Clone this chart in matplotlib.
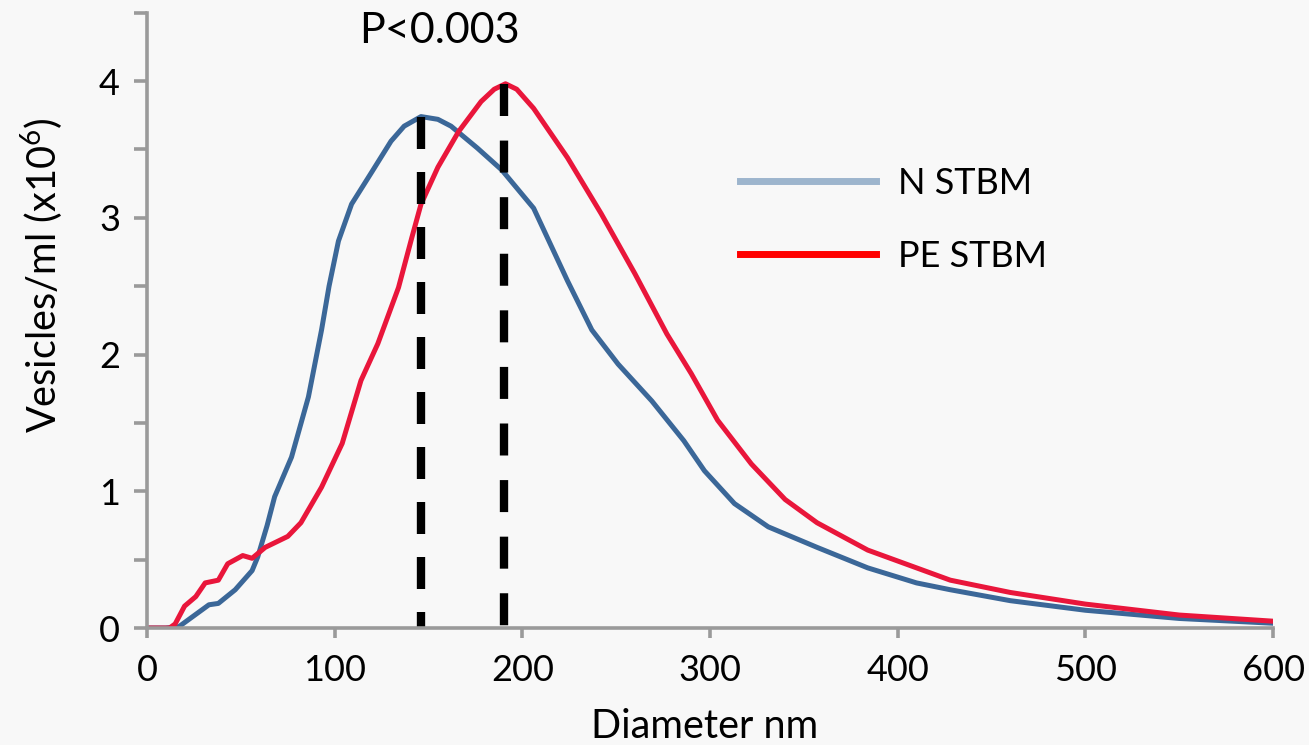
import matplotlib.pyplot as plt
from matplotlib.lines import Line2D

plt.rcParams['font.family'] = ['Lato', 'DejaVu Sans']
plt.rcParams['mathtext.fontset'] = 'custom'
plt.rcParams['mathtext.rm'] = 'Lato'

# vesicle size distribution (diameter nm, vesicles/ml x10^6)
n_x = [0, 10, 17, 24, 33, 38, 47, 56, 59, 64, 68, 77, 86, 93, 97, 102, 109,
       120, 130, 137, 146, 155, 162, 176, 189, 206, 224, 237, 251, 269, 286, 297, 313,
       331, 357, 384, 410, 428, 460, 500, 550, 600]
n_y = [0, 0, 0.01, 0.08, 0.17, 0.18, 0.28, 0.42, 0.52, 0.75, 0.96, 1.25, 1.69, 2.18,
       2.5, 2.83, 3.10, 3.34, 3.56, 3.67, 3.74, 3.72, 3.67, 3.51, 3.35, 3.07, 2.54,
       2.18, 1.93, 1.66, 1.37, 1.15, 0.91, 0.74, 0.59, 0.44, 0.33, 0.28, 0.20, 0.13,
       0.07, 0.035]

pe_x = [0, 8, 12, 15, 20, 26, 31, 38, 43, 51, 56, 63, 75, 82, 93, 104, 114,
        123, 134, 141, 146, 155, 166, 178, 185, 191, 197, 206, 224, 242, 260, 277,
        290, 304, 322, 340, 357, 384, 410, 428, 460, 500, 550, 600]
pe_y = [0, 0, 0.0, 0.03, 0.16, 0.23, 0.33, 0.35, 0.47, 0.53, 0.51, 0.59, 0.67, 0.77,
        1.03, 1.35, 1.81, 2.08, 2.49, 2.85, 3.10, 3.37, 3.63, 3.85, 3.94, 3.98, 3.94,
        3.80, 3.44, 3.03, 2.59, 2.15, 1.86, 1.52, 1.20, 0.94, 0.77, 0.57, 0.44, 0.35,
        0.26, 0.175, 0.095, 0.05]

n_mode, n_peak = 146, 3.74
pe_mode, pe_peak = 190, 3.98
p_text = "P<0.003"

fig = plt.figure(figsize=(13.09, 7.45), dpi=100)
fig.patch.set_facecolor('#f8f8f8')
ax = fig.add_axes([0.1123, 0.157, 0.8603, 0.826])
ax.set_facecolor('#f8f8f8')

ax.plot(n_x, n_y, color='#3b6798', lw=3.6, solid_joinstyle='round')
ax.plot(pe_x, pe_y, color='#e9163b', lw=3.6, solid_joinstyle='round')

# mode markers, dashes tuned so each reaches the x axis
for xm, ym, gap in [(n_mode, n_peak, 2.76), (pe_mode, pe_peak, 2.95)]:
    ax.plot([xm, xm], [ym, 0], color='black', lw=6, linestyle=(0, (3.84, gap)),
            dash_capstyle='butt')

ax.text((n_mode + pe_mode) / 2 - 12, 4.28, p_text, fontsize=31, ha='center', va='baseline')

ax.set_xlim(0, 600)
ax.set_ylim(0, 4.5)
ax.set_xticks(range(0, 601, 100))
ax.set_yticks(range(0, 5))
ax.set_yticks([0.5, 1.5, 2.5, 3.5, 4.5], minor=True)

for s in ['top', 'right']:
    ax.spines[s].set_visible(False)
for s in ['left', 'bottom']:
    ax.spines[s].set_color('#9a9a9a')
    ax.spines[s].set_linewidth(2.6)

ax.tick_params(axis='y', which='both', direction='out', length=9.5, width=2.6,
               color='#9a9a9a', labelsize=26, pad=10)
ax.tick_params(axis='x', direction='out', length=7, width=2.6, color='#9a9a9a',
               labelsize=26, pad=12)

ax.set_ylabel(r'Vesicles/ml (x10$^{\mathrm{6}}$)', fontsize=28.5, va='center')
ax.yaxis.set_label_coords(-0.093, 0.573)
ax.set_xlabel('Diameter nm', fontsize=28.5, va='baseline')
ax.xaxis.set_label_coords(0.4955, -0.178)

handles = [Line2D([], [], color='#9db5cd', lw=5),
           Line2D([], [], color='#ff0000', lw=5)]
ax.legend(handles, ['N STBM', 'PE STBM'], loc='upper left', bbox_to_anchor=(0.527, 0.75),
          frameon=False, fontsize=26, handlelength=3.75, handletextpad=0.62,
          labelspacing=1.12, borderpad=0, borderaxespad=0)

fig.savefig('out.png', dpi=100, facecolor=fig.get_facecolor())
